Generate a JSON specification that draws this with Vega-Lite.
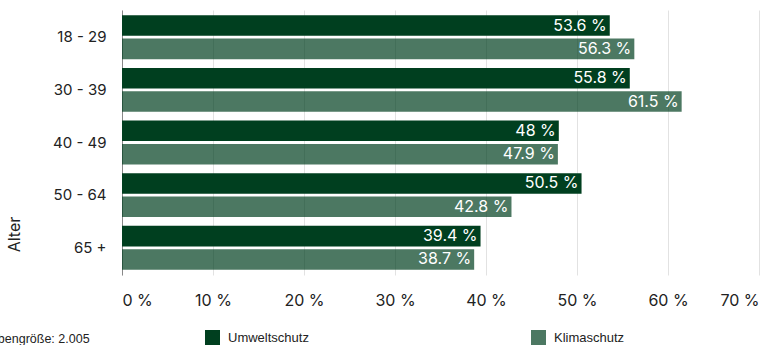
{
  "$schema": "https://vega.github.io/schema/vega-lite/v6.json",
  "width": 637,
  "height": 265,
  "autosize": {"type": "none"},
  "padding": {"left": 122, "top": 10, "right": 21, "bottom": 70},
  "background": "white",
  "title": {
    "text": "Stichprobengröße: 2.005",
    "orient": "bottom",
    "anchor": "start",
    "frame": "group",
    "dx": -170,
    "dy": -12,
    "offset": 0,
    "fontSize": 12.5,
    "fontWeight": "normal",
    "font": "Liberation Sans",
    "color": "#222222"
  },
  "data": {
    "values": [
      {"age": "18 - 29", "series": "Umweltschutz", "value": 53.6, "label": "53.6 %"},
      {"age": "18 - 29", "series": "Klimaschutz", "value": 56.3, "label": "56.3 %"},
      {"age": "30 - 39", "series": "Umweltschutz", "value": 55.8, "label": "55.8 %"},
      {"age": "30 - 39", "series": "Klimaschutz", "value": 61.5, "label": "61.5 %"},
      {"age": "40 - 49", "series": "Umweltschutz", "value": 48, "label": "48 %"},
      {"age": "40 - 49", "series": "Klimaschutz", "value": 47.9, "label": "47.9 %"},
      {"age": "50 - 64", "series": "Umweltschutz", "value": 50.5, "label": "50.5 %"},
      {"age": "50 - 64", "series": "Klimaschutz", "value": 42.8, "label": "42.8 %"},
      {"age": "65 +", "series": "Umweltschutz", "value": 39.4, "label": "39.4 %"},
      {"age": "65 +", "series": "Klimaschutz", "value": 38.7, "label": "38.7 %"}
    ]
  },
  "encoding": {
    "y": {
      "field": "age",
      "type": "nominal",
      "sort": ["18 - 29", "30 - 39", "40 - 49", "50 - 64", "65 +"],
      "scale": {"paddingInner": 0.166, "paddingOuter": 0.1},
      "axis": {
        "title": "Alter",
        "titleFont": "Inter",
        "titleFontSize": 16,
        "titleFontWeight": "normal",
        "titleColor": "#222222",
        "titleX": -108,
        "titleY": 224,
        "titleAngle": 270,
        "titleAlign": "center",
        "titleBaseline": "middle",
        "labelFont": "Inter",
        "labelFontSize": 15,
        "labelColor": "#222222",
        "labelPadding": 16,
        "ticks": false,
        "domain": true,
        "domainColor": "#888888",
        "domainWidth": 1,
        "grid": false
      }
    },
    "yOffset": {
      "field": "series",
      "type": "nominal",
      "sort": ["Umweltschutz", "Klimaschutz"],
      "scale": {"paddingInner": 0.12}
    },
    "x": {
      "field": "value",
      "type": "quantitative",
      "scale": {"domain": [0, 70], "nice": false},
      "axis": {
        "title": null,
        "values": [0, 10, 20, 30, 40, 50, 60, 70],
        "labelExpr": "datum.value + ' %'",
        "labelFont": "Inter",
        "labelFontSize": 16,
        "labelColor": "#222222",
        "labelPadding": 17,
        "ticks": false,
        "domain": false,
        "grid": true,
        "gridColor": "#e2e2e2",
        "gridWidth": 1
      }
    }
  },
  "layer": [
    {
      "mark": {"type": "bar"},
      "encoding": {
        "color": {
          "field": "series",
          "type": "nominal",
          "sort": ["Umweltschutz", "Klimaschutz"],
          "scale": {"domain": ["Umweltschutz", "Klimaschutz"], "range": ["#003f1f", "#003f1f"]},
          "legend": {
            "title": null,
            "orient": "none",
            "legendX": 83,
            "legendY": 320,
            "direction": "horizontal",
            "columns": 2,
            "columnPadding": 222,
            "padding": 0,
            "symbolType": "square",
            "symbolSize": 225,
            "symbolStrokeWidth": 0,
            "labelOffset": 8,
            "labelFont": "Liberation Sans",
            "labelFontSize": 13,
            "labelColor": "#222222"
          }
        },
        "opacity": {
          "field": "series",
          "type": "nominal",
          "sort": ["Umweltschutz", "Klimaschutz"],
          "scale": {"domain": ["Umweltschutz", "Klimaschutz"], "range": [1, 0.7]},
          "legend": {
            "title": null,
            "orient": "none",
            "legendX": 83,
            "legendY": 320,
            "direction": "horizontal",
            "columns": 2,
            "columnPadding": 222,
            "padding": 0,
            "symbolType": "square",
            "symbolSize": 225,
            "symbolStrokeWidth": 0,
            "labelOffset": 8,
            "labelFont": "Liberation Sans",
            "labelFontSize": 13,
            "labelColor": "#222222"
          }
        }
      }
    },
    {
      "mark": {"type": "text", "align": "right", "dx": -3, "color": "white", "font": "Inter", "fontSize": 16},
      "encoding": {
        "text": {"field": "label", "type": "nominal"}
      }
    }
  ],
  "config": {
    "view": {"stroke": null}
  }
}
